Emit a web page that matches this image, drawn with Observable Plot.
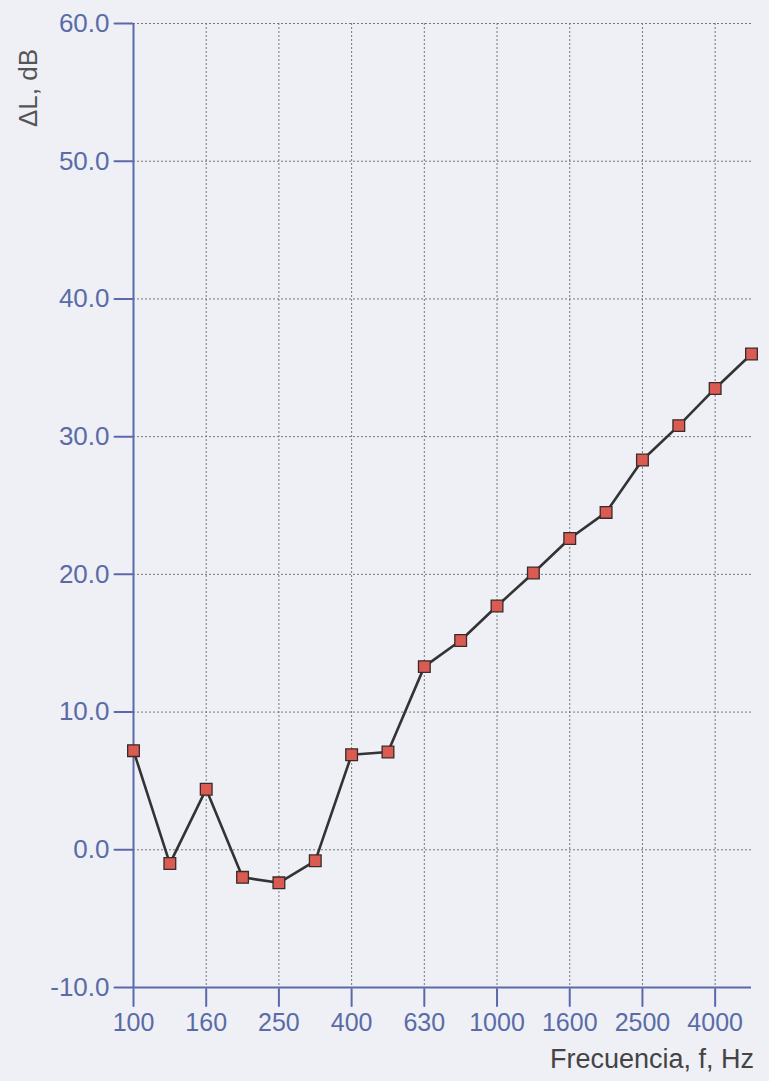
<!DOCTYPE html>
<html>
<head>
<meta charset="utf-8">
<script src="https://cdn.jsdelivr.net/npm/d3@7"></script>
<script src="https://cdn.jsdelivr.net/npm/@observablehq/plot@0.6"></script>
<style>
  html, body { margin: 0; padding: 0; background: #eef0f6; }
  #chart { position: relative; width: 769px; height: 1081px; }
</style>
</head>
<body>
<div id="chart"></div>
<script>
const frequencies = ["100","125","160","200","250","315","400","500","630","800","1000","1250","1600","2000","2500","3150","4000","5000"];
const deltaL = [7.2, -1.0, 4.4, -2.0, -2.4, -0.8, 6.9, 7.1, 13.3, 15.2, 17.7, 20.1, 22.6, 24.5, 28.3, 30.8, 33.5, 36.0];
const xTickLabels = ["100","160","250","400","630","1000","1600","2500","4000"];
const yTicks = [-10, 0, 10, 20, 30, 40, 50, 60];

const data = frequencies.map((f, i) => ({f, v: deltaL[i]}));

const axisColor = "#5b69ab";
const labelColor = "#5a6ba6";
const fontFamily = "'Liberation Sans', Arial, sans-serif";
const tickShape = {draw(context, l) { context.moveTo(0, l / 2); context.lineTo(0, -l / 2); }};

const plot = Plot.plot({
  width: 769,
  height: 1081,
  marginLeft: 133,
  marginRight: 18,
  marginTop: 23,
  marginBottom: 94,
  style: {fontFamily, background: "transparent", overflow: "visible"},
  x: {type: "point", domain: frequencies, padding: 0, round: false, axis: null},
  y: {domain: [-10, 60], axis: null},
  marks: [
    Plot.gridY(yTicks.filter(d => d > -10), {stroke: "#777", strokeOpacity: 1, strokeDasharray: "2,2", strokeWidth: 1}),
    Plot.gridX(xTickLabels.slice(1), {stroke: "#777", strokeOpacity: 1, strokeDasharray: "2,2", strokeWidth: 1}),
    Plot.ruleX([frequencies[0]], {stroke: axisColor, strokeWidth: 2}),
    Plot.ruleY([-10], {stroke: axisColor, strokeWidth: 2}),
    // x tick marks crossing the axis
    Plot.vector(xTickLabels, {x: d => d, frameAnchor: "bottom", length: 17, rotate: 0, anchor: "middle", shape: tickShape, dy: 1.5, stroke: axisColor, strokeWidth: 2}),
    // y tick marks crossing the axis
    Plot.vector(yTicks, {y: d => d, frameAnchor: "left", length: 18, rotate: 90, anchor: "middle", shape: tickShape, dx: -1, stroke: axisColor, strokeWidth: 2}),
    Plot.text(xTickLabels, {x: d => d, frameAnchor: "bottom", dy: 43, text: d => d, fill: labelColor, fontSize: 25, fontFamily}),
    Plot.text(yTicks, {y: d => d, frameAnchor: "left", dx: -24, text: d => d.toFixed(1), textAnchor: "end", fill: labelColor, fontSize: 26, fontFamily}),
    Plot.line(data, {x: "f", y: "v", stroke: "#333", strokeWidth: 2.6}),
    Plot.dot(data, {x: "f", y: "v", symbol: "square", r: 6.6, fill: "#d95b52", stroke: "#3a2a2a", strokeWidth: 1.3})
  ]
});
document.getElementById("chart").appendChild(plot);

const svg = d3.select(plot);
svg.append("text")
  .attr("transform", "translate(37,88) rotate(-90)")
  .attr("text-anchor", "middle")
  .attr("font-family", fontFamily)
  .attr("font-size", 26)
  .attr("fill", "#555")
  .text("ΔL, dB");
svg.append("text")
  .attr("x", 754)
  .attr("y", 1068)
  .attr("text-anchor", "end")
  .attr("font-family", fontFamily)
  .attr("font-size", 27)
  .attr("fill", "#444")
  .text("Frecuencia, f, Hz");
</script>
</body>
</html>
